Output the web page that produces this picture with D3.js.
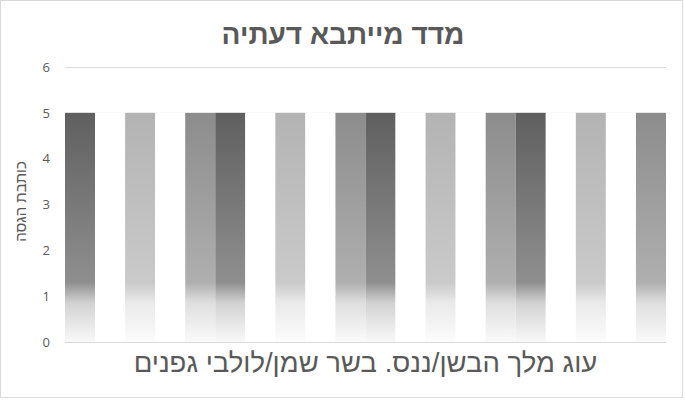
<!DOCTYPE html>
<html lang="he">
<head>
<meta charset="utf-8">
<script src="https://cdn.jsdelivr.net/npm/d3@7"></script>
<style>
  body { margin: 0; background: #fff; }
  text { font-family: "Liberation Sans", Arial, sans-serif; fill: #595959; }
</style>
</head>
<body>
<div id="chart"></div>
<script>
// chart data
const chartTitle = "מדד מייתבא דעתיה";
const yAxisTitle = "כותבת הגסה";
const categories = ["עוג מלך הבשן/ננס. בשר שמן/לולבי גפנים"];
const seriesNames = d3.range(1, 21).map((i) => "סדרה" + i);
const seriesValues = [5, 5, 5, 5, 5, 5, 5, 5, 5, 5, 5, 5, 5, 5, 5, 5, 5, 5, 5, 5];
const yTicks = [0, 1, 2, 3, 4, 5, 6];

// colour cycle of the series (dark, white, light, white, medium)
const palette = ["#5f5f5f", "#ffffff", "#b3b3b3", "#ffffff", "#8c8c8c"];

const WIDTH = 685, HEIGHT = 400;
const MARGIN = { LEFT: 65, RIGHT: 19, TOP: 67, BOTTOM: 58 };
const innerW = WIDTH - MARGIN.LEFT - MARGIN.RIGHT;
const innerH = HEIGHT - MARGIN.TOP - MARGIN.BOTTOM;

const svg = d3.select("#chart")
  .append("svg")
  .attr("width", WIDTH)
  .attr("height", HEIGHT);

// chart border
svg.append("rect")
  .attr("x", 0.5).attr("y", 0.5)
  .attr("width", WIDTH - 3).attr("height", HEIGHT - 3)
  .attr("fill", "#fff")
  .attr("stroke", "#d9d9d9");

// gradients, one per series
const defs = svg.append("defs");
const mix = (c, t) => d3.interpolateRgb(c, "#ffffff")(t);
seriesNames.forEach((s, i) => {
  const c = palette[i % palette.length];
  const grad = defs.append("linearGradient")
    .attr("id", "grad" + i)
    .attr("x1", 0).attr("y1", 0).attr("x2", 0).attr("y2", 1);
  [[0, 0], [0.74, 0.3], [0.83, 0.72], [1, 0.96]].forEach(([o, t]) => {
    grad.append("stop").attr("offset", o).attr("stop-color", mix(c, t));
  });
});

const g = svg.append("g")
  .attr("transform", `translate(${MARGIN.LEFT}, ${MARGIN.TOP})`);

const x0 = d3.scaleBand().domain(categories).range([0, innerW]).padding(0);
const x1 = d3.scaleBand().domain(seriesNames).range([0, x0.bandwidth()]).padding(0);
const y = d3.scaleLinear().domain([0, 6]).range([innerH, 0]);

// gridlines
g.append("g")
  .attr("class", "grid")
  .call(d3.axisLeft(y).tickValues(yTicks).tickSize(-innerW).tickFormat(""))
  .call((a) => a.select(".domain").remove())
  .call((a) => a.selectAll("line").attr("stroke", "#d9d9d9"));

// bars
const groups = g.selectAll(".cat")
  .data(categories)
  .enter()
  .append("g")
  .attr("transform", (d) => `translate(${x0(d)}, 0)`);

groups.selectAll("rect")
  .data(seriesNames.map((s, i) => ({ s, i, v: seriesValues[i] })))
  .enter()
  .append("rect")
  .attr("x", (d) => x1(d.s))
  .attr("y", (d) => y(d.v))
  .attr("width", x1.bandwidth())
  .attr("height", (d) => y(0) - y(d.v))
  .attr("fill", (d) => `url(#grad${d.i})`);

// y axis
g.append("g")
  .call(d3.axisLeft(y).tickValues(yTicks).tickSize(0).tickPadding(15).tickFormat(d3.format("d")))
  .call((a) => a.select(".domain").remove())
  .call((a) => a.selectAll("text")
    .style("font-size", "13px")
    .style("font-family", "'Open Sans', sans-serif")
    .attr("fill", "#595959"));

// x axis (category label)
g.append("g")
  .attr("transform", `translate(0, ${innerH})`)
  .call(d3.axisBottom(x0).tickSize(0).tickPadding(10))
  .call((a) => a.select(".domain").attr("stroke", "#d9d9d9"))
  .call((a) => a.selectAll("text")
    .style("font-size", "27.5px")
    .attr("direction", "rtl")
    .attr("fill", "#595959"));

// title
svg.append("text")
  .attr("x", 343)
  .attr("y", 44)
  .attr("text-anchor", "middle")
  .attr("direction", "rtl")
  .style("font-size", "28px")
  .style("font-weight", "bold")
  .text(chartTitle);

// y axis title
svg.append("text")
  .attr("transform", `translate(26, ${MARGIN.TOP + innerH / 2 - 3}) rotate(-90)`)
  .attr("text-anchor", "middle")
  .attr("direction", "rtl")
  .style("font-size", "15px")
  .text(yAxisTitle);
</script>
</body>
</html>
